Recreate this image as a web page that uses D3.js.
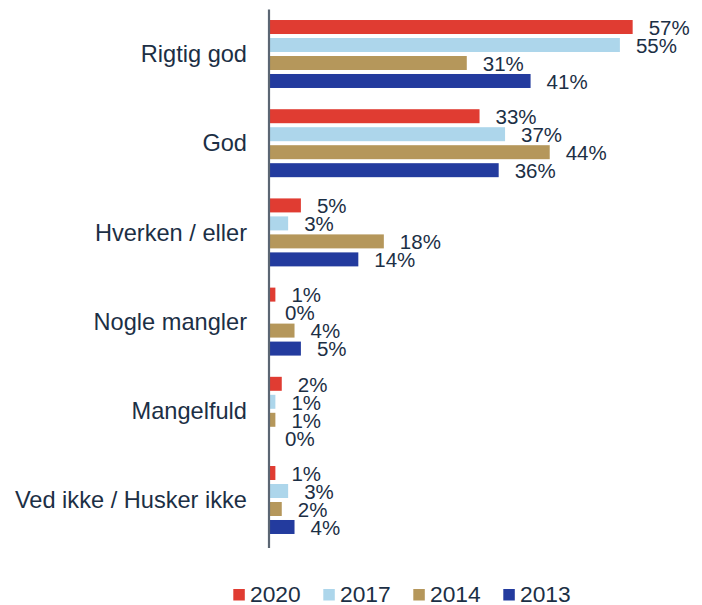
<!DOCTYPE html>
<html>
<head>
<meta charset="utf-8">
<script src="https://cdn.jsdelivr.net/npm/d3@7"></script>
<style>
  html, body { margin: 0; padding: 0; background: #ffffff; }
  svg { display: block; }
  text { font-family: "Liberation Sans", Arial, sans-serif; fill: #1c2f45; }
</style>
</head>
<body>
<div id="chart"></div>
<script>
// Answer categories (top to bottom)
const categories = [
  "Rigtig god",
  "God",
  "Hverken / eller",
  "Nogle mangler",
  "Mangelfuld",
  "Ved ikke / Husker ikke"
];

// Survey years, in the order the bars are stacked inside each group
const years = ["2020", "2017", "2014", "2013"];

// Share of answers (%) per year, aligned with categories
const values2020 = [57, 33, 5, 1, 2, 1];
const values2017 = [55, 37, 3, 0, 1, 3];
const values2014 = [31, 44, 18, 4, 1, 2];
const values2013 = [41, 36, 14, 5, 0, 4];

const seriesValues = {
  "2020": values2020,
  "2017": values2017,
  "2014": values2014,
  "2013": values2013
};

const colors = {
  "2020": "#e03c32",
  "2017": "#add6eb",
  "2014": "#b5975b",
  "2013": "#233b9e"
};

const width = 702, height = 605;
const axisX = 269;

const svg = d3.select("#chart").append("svg")
  .attr("width", width)
  .attr("height", height);

// Value axis: percent -> horizontal pixels
const x = d3.scaleLinear().domain([0, 60]).range([axisX, axisX + 6.38 * 60]);

// Category groups and the bars within each group
const y0 = d3.scaleBand()
  .domain(categories)
  .range([9.4, 544.6])
  .paddingInner(0.238)
  .paddingOuter(0.119);

const y1 = d3.scaleBand()
  .domain(years)
  .range([0, y0.bandwidth()])
  .paddingInner(4 / 18)
  .paddingOuter(0);

const rows = [];
categories.forEach((c, i) => {
  years.forEach(yr => rows.push({ category: c, year: yr, value: seriesValues[yr][i] }));
});

const g = svg.append("g");

g.selectAll("rect.bar")
  .data(rows)
  .join("rect")
  .attr("class", "bar")
  .attr("x", x(0))
  .attr("y", d => y0(d.category) + y1(d.year))
  .attr("width", d => x(d.value) - x(0))
  .attr("height", y1.bandwidth())
  .attr("fill", d => colors[d.year]);

// Value labels to the right of each bar
g.selectAll("text.value")
  .data(rows)
  .join("text")
  .attr("class", "value")
  .attr("x", d => x(d.value) + 16)
  .attr("y", d => y0(d.category) + y1(d.year) + y1.bandwidth() / 2)
  .attr("dy", "0.38em")
  .attr("font-size", 20.5)
  .text(d => d.value + "%");

// Category axis on the left, drawn as a plain vertical line with labels
const yAxis = d3.axisLeft(y0).tickSize(0).tickPadding(22);
const axisG = svg.append("g")
  .attr("transform", `translate(${axisX},0)`)
  .call(yAxis);
axisG.select(".domain")
  .attr("d", `M0,9.4V548`)
  .attr("stroke", "#5b6673")
  .attr("stroke-width", 2.2);
axisG.selectAll(".tick text")
  .attr("font-size", 23.6)
  .attr("font-family", "Liberation Sans, Arial, sans-serif")
  .attr("fill", "#1c2f45")
  .attr("dy", "0.35em");

// Legend along the bottom
const legendX = d3.scalePoint().domain(years).range([233.3, 503.3]);
const legend = svg.append("g").selectAll("g")
  .data(years)
  .join("g")
  .attr("transform", d => `translate(${legendX(d)},0)`);

legend.append("rect")
  .attr("x", 0)
  .attr("y", 589)
  .attr("width", 11.5)
  .attr("height", 11.5)
  .attr("fill", d => colors[d]);

legend.append("text")
  .attr("x", 16.7)
  .attr("y", 601.5)
  .attr("font-size", 22.8)
  .text(d => d);
</script>
</body>
</html>
